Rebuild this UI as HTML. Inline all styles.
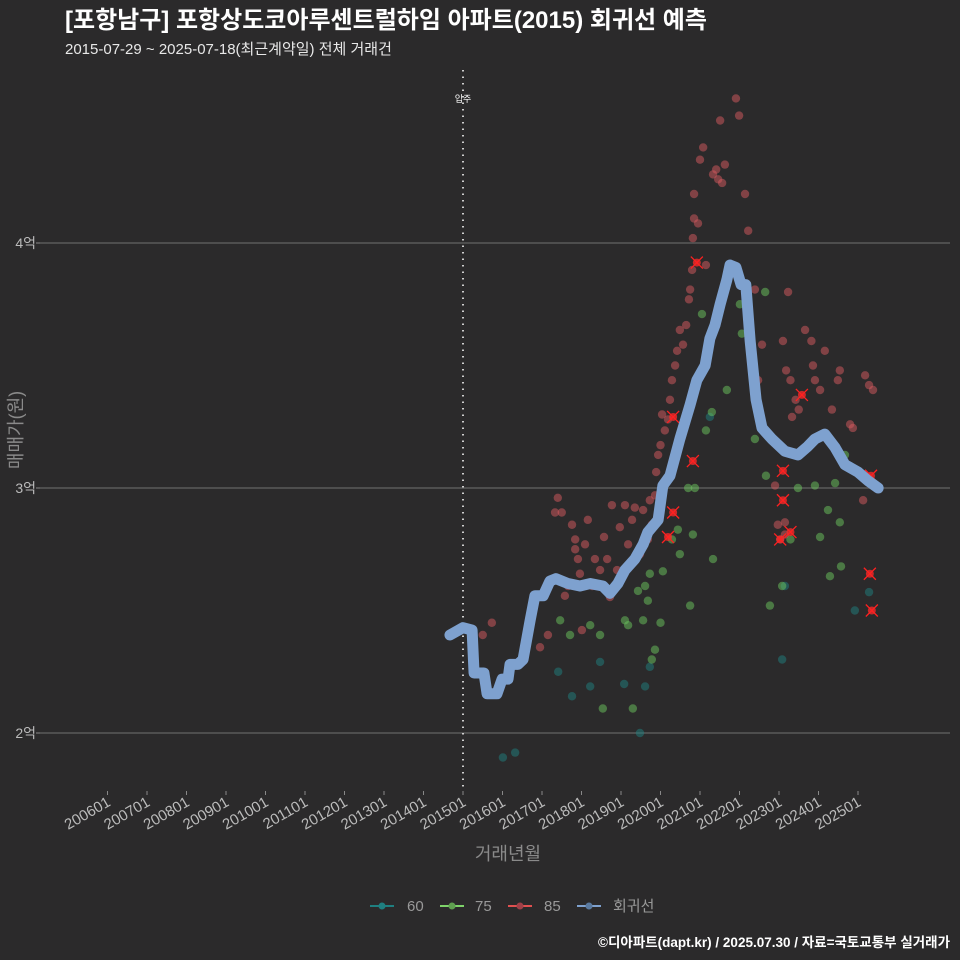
<!DOCTYPE html>
<html><head><meta charset="utf-8">
<style>
body{margin:0;background:#2b2a2b;}
svg{display:block;font-family:"Liberation Sans","Noto Sans CJK KR",sans-serif;}
</style></head>
<body>
<svg id="c" width="960" height="960" viewBox="0 0 960 960">
<rect width="960" height="960" fill="#2b2a2b"/>
<text x="65" y="28" fill="#fff" font-size="24" font-weight="bold">[포항남구] 포항상도코아루센트럴하임 아파트(2015) 회귀선 예측</text>
<text x="65" y="54" fill="#e8e8e8" font-size="15">2015-07-29 ~ 2025-07-18(최근계약일) 전체 거래건</text>
<g id="grid"></g>
<g id="xaxis"></g>
<g id="pts"></g>
<g id="reg"></g>
<text x="0" y="0" transform="translate(22,430) rotate(-90)" text-anchor="middle" fill="#8a8a8a" font-size="18">매매가(원)</text>
<text x="508" y="860" text-anchor="middle" fill="#8a8a8a" font-size="18">거래년월</text>
<g font-size="15" fill="#999">
 <g><line x1="370" y1="906" x2="394" y2="906" stroke="#1f7f80" stroke-width="2"/><circle cx="382" cy="906" r="3.5" fill="#1f7f80"/><text x="407" y="911">60</text></g>
 <g><line x1="440" y1="906" x2="464" y2="906" stroke="#7ed36a" stroke-width="2"/><circle cx="452" cy="906" r="3.5" fill="#5fa050"/><text x="475" y="911">75</text></g>
 <g><line x1="508" y1="906" x2="532" y2="906" stroke="#e05050" stroke-width="2"/><circle cx="520" cy="906" r="3.5" fill="#a04048"/><text x="544" y="911">85</text></g>
 <g><line x1="577" y1="906" x2="601" y2="906" stroke="#7ea1cf" stroke-width="2"/><circle cx="589" cy="906" r="3.5" fill="#5a7aa0"/><text x="613" y="911">회귀선</text></g>
</g>
<text x="950" y="947" text-anchor="end" fill="#fff" font-size="13.5" font-weight="bold">©디아파트(dapt.kr) / 2025.07.30 / 자료=국토교통부 실거래가</text>
</svg>
<script>
const yTicks=[2,3,4];
const yTickLabels=["2억","3억","4억"];
const xTickYears=[2006,2007,2008,2009,2010,2011,2012,2013,2014,2015,2016,2017,2018,2019,2020,2021,2022,2023,2024,2025];
const moveInYear=2015.0;
const regX=[2014.67,2015.0,2015.23,2015.28,2015.53,2015.61,2015.86,2015.99,2016.14,2016.19,2016.39,2016.52,2016.70,2016.82,2017.03,2017.20,2017.35,2017.66,2017.96,2018.22,2018.54,2018.72,2018.92,2019.10,2019.35,2019.56,2019.68,2019.94,2020.06,2020.24,2020.49,2020.75,2020.92,2021.13,2021.25,2021.38,2021.51,2021.68,2021.76,2021.91,2022.04,2022.16,2022.27,2022.42,2022.57,2022.82,2023.15,2023.48,2023.73,2023.91,2024.16,2024.42,2024.67,2025.0,2025.25,2025.51];
const regY=[2.40,2.43,2.42,2.245,2.245,2.16,2.16,2.22,2.22,2.28,2.28,2.30,2.46,2.56,2.56,2.62,2.63,2.61,2.60,2.61,2.60,2.57,2.61,2.665,2.71,2.77,2.82,2.87,3.01,3.05,3.20,3.34,3.44,3.50,3.61,3.665,3.75,3.85,3.91,3.90,3.83,3.83,3.60,3.36,3.245,3.20,3.15,3.135,3.17,3.20,3.22,3.165,3.095,3.065,3.03,3.00];
const redX=[2015.5,2015.73,2016.95,2017.15,2017.33,2017.4,2017.5,2017.58,2017.66,2017.76,2017.84,2017.91,2017.96,2018.01,2017.84,2018.09,2018.16,2018.27,2018.34,2018.47,2018.57,2018.65,2018.72,2018.77,2018.9,2018.97,2019.10,2019.18,2019.28,2019.35,2019.48,2019.56,2019.68,2019.73,2019.78,2019.86,2019.89,2019.94,2020.0,2020.04,2020.11,2020.19,2020.24,2020.29,2020.37,2020.42,2020.49,2020.57,2020.65,2020.72,2020.75,2020.80,2020.82,2020.85,2020.85,2020.95,2021.0,2021.08,2021.15,2021.33,2021.41,2021.46,2021.51,2021.56,2021.63,2021.91,2021.99,2022.14,2022.22,2022.39,2022.57,2022.47,2023.23,2023.10,2023.18,2023.29,2023.42,2023.50,2023.66,2023.82,2023.86,2023.91,2024.04,2024.16,2024.34,2024.49,2024.54,2024.80,2024.87,2025.18,2025.28,2025.38,2025.13,2022.90,2022.97,2023.03,2023.15,2023.15,2023.33];
const redY=[2.40,2.45,2.35,2.40,2.90,2.96,2.90,2.56,2.60,2.85,2.79,2.71,2.65,2.42,2.75,2.77,2.87,2.60,2.71,2.665,2.80,2.71,2.555,2.93,2.665,2.84,2.93,2.77,2.87,2.92,2.73,2.91,2.79,2.95,2.85,2.97,3.065,3.135,3.175,3.30,3.235,3.28,3.36,3.44,3.50,3.56,3.645,3.585,3.665,3.77,3.81,3.89,4.02,4.10,4.20,4.08,4.34,4.39,3.91,4.28,4.30,4.26,4.50,4.245,4.32,4.59,4.52,4.20,4.05,3.81,3.585,3.44,3.80,3.60,3.48,3.44,3.36,3.32,3.645,3.60,3.50,3.44,3.40,3.56,3.32,3.44,3.48,3.26,3.245,3.46,3.42,3.40,2.95,3.01,2.85,2.79,2.86,2.81,3.29];
const greenX=[2017.46,2017.71,2018.22,2018.47,2018.54,2019.10,2019.18,2019.30,2019.43,2019.56,2019.61,2019.68,2019.73,2019.78,2019.86,2020.0,2020.06,2020.29,2020.44,2020.49,2020.70,2020.75,2020.82,2020.87,2021.05,2021.15,2021.30,2021.33,2021.68,2022.01,2022.06,2022.39,2022.65,2022.67,2022.77,2023.08,2023.29,2023.48,2023.91,2024.04,2024.24,2024.29,2024.42,2024.54,2024.67,2024.57];
const greenY=[2.46,2.40,2.44,2.40,2.10,2.46,2.44,2.10,2.58,2.46,2.60,2.54,2.65,2.30,2.34,2.45,2.66,2.79,2.83,2.73,3.00,2.52,2.81,3.00,3.71,3.235,3.31,2.71,3.40,3.75,3.63,3.20,3.80,3.05,2.52,2.60,2.79,3.00,3.01,2.80,2.91,2.64,3.02,2.86,3.135,2.68];
const tealX=[2016.01,2016.32,2017.41,2017.76,2018.22,2018.47,2019.08,2019.48,2019.61,2019.73,2021.25,2023.08,2023.15,2024.92,2025.28,2024.8];
const tealY=[1.90,1.92,2.25,2.15,2.19,2.29,2.20,2.00,2.19,2.27,3.29,2.30,2.60,2.50,2.575,3.09];
const crossX=[2020.92,2020.82,2020.32,2020.32,2020.19,2023.10,2023.10,2023.03,2023.29,2023.58,2025.33,2025.30,2025.35];
const crossY=[3.92,3.11,3.29,2.90,2.80,3.07,2.95,2.79,2.82,3.38,3.05,2.65,2.50];

const NS="http://www.w3.org/2000/svg";
const X0=40,X1=950;
function sx(yr){return 463+(yr-2015)*39.5;}
function sy(v){return 488-(v-3)*245;}
function mk(tag,attrs,parent){const e=document.createElementNS(NS,tag);for(const k in attrs)e.setAttribute(k,attrs[k]);parent.appendChild(e);return e;}
const grid=document.getElementById('grid');
yTicks.forEach((t,i)=>{
 const l=mk('line',{x1:X0,x2:X1,y1:sy(t),y2:sy(t),stroke:'#5a5a5a','stroke-width':1.5},grid);
 
 
 const tk=mk('line',{x1:X0-4,x2:X0,y1:sy(t),y2:sy(t),stroke:'#888'},grid);
 
 
 const tx=mk('text',{x:X0-4,y:sy(t)+5,'text-anchor':'end',fill:'#bbb','font-size':14},grid);
 tx.textContent=yTickLabels[i];
 
 
});
const xa=document.getElementById('xaxis');
const ml=mk('line',{x1:sx(moveInYear),x2:sx(moveInYear),y1:70,y2:790,stroke:'#cfcfcf','stroke-width':2,'stroke-dasharray':'1.5 5'},xa);


const mt=mk('text',{x:sx(moveInYear),y:102,'text-anchor':'middle',fill:'#fff','font-size':9},xa);
mt.textContent='입주';


xTickYears.forEach(y=>{
 const x=sx(y);
 const t=mk('line',{x1:x,x2:x,y1:791,y2:795,stroke:'#888'},xa);
 
 
 const tx=mk('text',{x:0,y:0,'text-anchor':'end',fill:'#bbb','font-size':15,transform:`translate(${x+4},805) rotate(-30)`},xa);
 tx.textContent=y+'01';
 
 
});
const pts=document.getElementById('pts');
function dots(xs,ys,col,name){xs.forEach((x,i)=>{
 const c=mk('circle',{cx:sx(x),cy:sy(ys[i]),r:4.2,fill:col,'fill-opacity':0.5},pts);
 
 
});}
dots(tealX,tealY,'#1f8080','point-60');
dots(greenX,greenY,'#6cc55e','point-75');
dots(redX,redY,'#d85a60','point-85');
crossX.forEach((x,i)=>{
 const cx=sx(x),cy=sy(crossY[i]);
 const g=mk('g',{},pts);
 
 
 mk('circle',{cx:cx,cy:cy,r:4,fill:'#ff2a2a','fill-opacity':0.75},g);
 mk('path',{d:`M${cx-6} ${cy-6}L${cx+6} ${cy+6}M${cx-6} ${cy+6}L${cx+6} ${cy-6}`,stroke:'#ff2020','stroke-width':1.3},g);
});
const reg=document.getElementById('reg');
const p=mk('polyline',{points:regX.map((x,i)=>sx(x)+','+sy(regY[i])).join(' '),fill:'none',stroke:'#7ea1cf','stroke-width':11,'stroke-linejoin':'round','stroke-linecap':'round'},reg);


</script>
</body></html>
